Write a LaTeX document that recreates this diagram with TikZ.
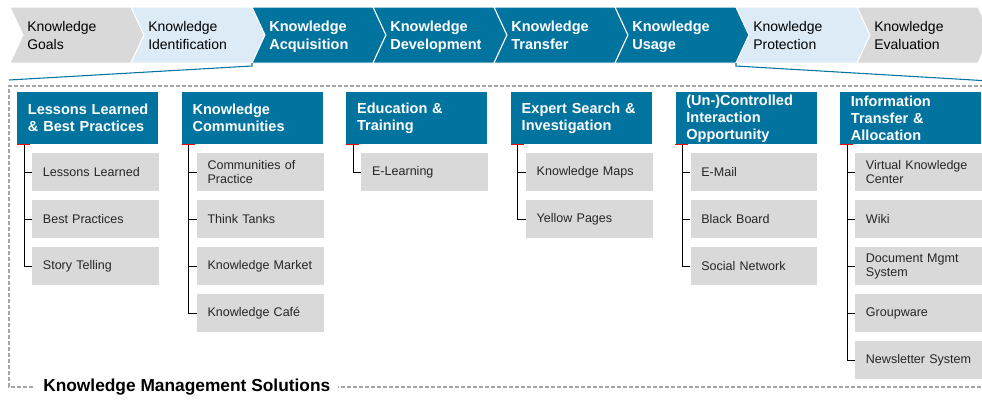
\documentclass[tikz,border=0pt]{standalone}
\usepackage{fontspec}
\setmainfont{Liberation Sans}
\usepackage{xcolor}
\usepackage{tikz}
\definecolor{kmteal}{HTML}{00749F}
\definecolor{kmlight}{HTML}{DCEBF5}
\definecolor{kmgrey}{HTML}{D9D9D9}
\definecolor{kmdash}{HTML}{A6A6A6}

\tikzset{
  stagetext/.style={anchor=north west, align=left, inner sep=0pt, font=\fontsize{10.5}{13.5}\selectfont},
  stage kmgrey/.style={text=black},
  stage kmlight/.style={text=black},
  stage kmteal/.style={text=white, font=\fontsize{10.9}{13.5}\selectfont\bfseries},
  solhead/.style={rectangle, fill=kmteal, text=white, anchor=north west,
    font=\fontsize{10.9}{12.75}\selectfont\bfseries, align=left,
    text width=89.75pt, inner xsep=8pt, inner ysep=0pt,
    minimum width=105.75pt, minimum height=39pt},
  solitem/.style={rectangle, fill=kmgrey, text=black!85, anchor=north west,
    font=\fontsize{9.4}{10.5}\selectfont, align=left,
    text width=79pt, inner xsep=8pt,
    minimum width=95pt, minimum height=28.5pt},
  tree/.style={draw=black, line width=0.6pt},
  treemark/.style={draw=red, line width=0.9pt},
  frame/.style={draw=kmdash, line width=1.1pt, dash pattern=on 3pt off 1.5pt},
  funnel/.style={draw=kmteal, line width=0.8pt},
  soltitle/.style={anchor=west, fill=white, inner xsep=6pt,
    font=\fontsize{13}{15}\selectfont\bfseries},
}

\begin{document}
\begin{tikzpicture}[x=0.75pt, y=-0.75pt]
  \clip (0,0) rectangle (982,400);

  % process chevrons
  \foreach \c/\txt [count=\i from 0] in {
      kmgrey/{Knowledge\\Goals},
      kmlight/{Knowledge\\Identification},
      kmteal/{Knowledge\\Acquisition},
      kmteal/{Knowledge\\Development},
      kmteal/{Knowledge\\Transfer},
      kmteal/{Knowledge\\Usage},
      kmlight/{Knowledge\\Protection},
      kmgrey/{Knowledge\\Evaluation}} {
    \pgfmathsetmacro\x{10+121*\i}
    \filldraw[fill=\c, draw=white, line width=0.75pt]
      (\x,7) -- ++(121,0) -- ++(13,28) -- ++(-13,28) -- ++(-121,0) -- ++(13,-28) -- cycle;
    \node[stagetext, stage \c] (stage\i) at (\x+17,21) {\txt};
  }

  % funnel from the operative stages down to the solutions
  \coordinate (acqfoot) at (252,63);
  \coordinate (profoot) at (736,63);
  \coordinate (funl) at (9,80);
  \coordinate (funr) at (990,81);
  \draw[funnel] (funl) -- ([yshift=-2.25pt]acqfoot) -- (acqfoot);
  \draw[funnel] (profoot) -- ([yshift=-2.25pt]profoot) -- (funr);

  % dashed frame
  \draw[frame] (990,86) -- (9,86) -- (9,387) -- (990,387);
  \node[soltitle] (title) at (35,387) {Knowledge Management Solutions};

  % solution columns
  \foreach \head/\items [count=\c from 0] in {
      {Lessons~Learned\\\&~Best~Practices}/{Lessons Learned, Best Practices, Story Telling},
      {Knowledge\\Communities}/{Communities of\\Practice, Think Tanks, Knowledge Market, Knowledge Café},
      {Education~\&\\Training}/{E-Learning},
      {Expert~Search~\&\\Investigation}/{Knowledge Maps, Yellow Pages},
      {(Un-)Controlled\\Interaction\\Opportunity}/{E-Mail, Black Board, Social Network},
      {Information\\Transfer~\&\\Allocation}/{Virtual Knowledge\\Center, Wiki, Document Mgmt\\System, Groupware, Newsletter~System}} {
    \pgfmathsetmacro\x{17+164.6*\c}
    \node[solhead] (head\c) at (\x,92) {\head};
    \foreach \it [count=\k from 0] in \items {
      \node[solitem] (item\c-\k) at (\x+15,153+47*\k) {\it};
      \draw[tree] ([xshift=5.25pt]head\c.south west) |- (item\c-\k.west);
    }
    \draw[treemark] (head\c.south west) -- ([xshift=9.75pt]head\c.south west);
  }
\end{tikzpicture}
\end{document}
